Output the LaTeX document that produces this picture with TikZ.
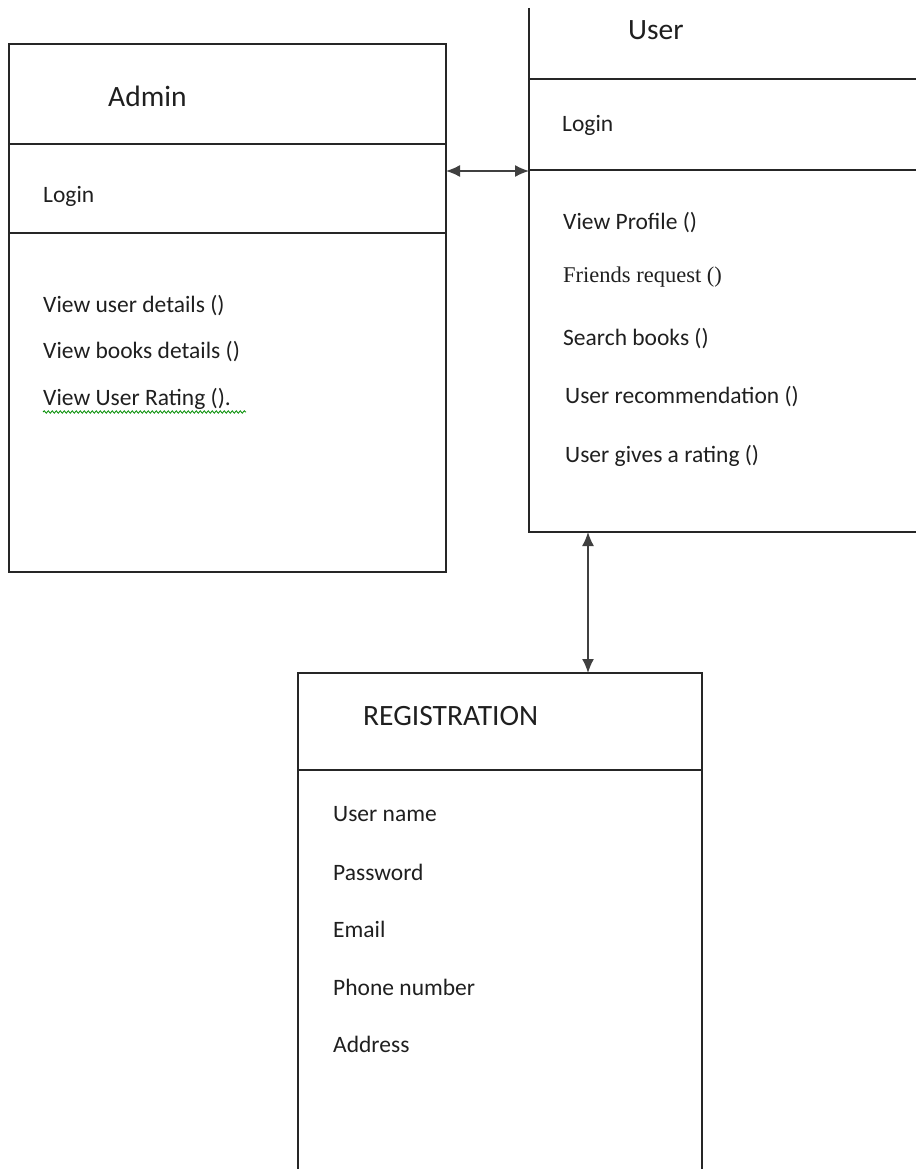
\documentclass[tikz,border=0pt]{standalone}
\usepackage{fontspec}
\setmainfont{Carlito}
\newfontfamily\timesfont{Liberation Serif}
\usetikzlibrary{arrows.meta,decorations.pathmorphing}
\begin{document}
\begin{tikzpicture}[x=1pt,y=-1pt,
  boxline/.style={line width=1.8pt,draw=black!85},
  link/.style={line width=1.5pt,draw=black!75,{Latex[length=14pt,width=12pt]}-{Latex[length=14pt,width=12pt]}},
  title/.style={anchor=base west,inner sep=0pt,font=\fontsize{29.5}{34}\selectfont,text=black!88},
  item/.style={anchor=base west,inner sep=0pt,font=\fontsize{23.5}{27}\selectfont,text=black!88},
  spell/.style={draw=green!55!black,line width=0.8pt,decorate,
    decoration={snake,amplitude=1.2pt,segment length=4pt}}]
\useasboundingbox (0,0) rectangle (916,1169);

% Admin class
\draw[boxline] (9,44) rectangle (446,572);
\draw[boxline] (9,144) -- (446,144);
\draw[boxline] (9,233) -- (446,233);
\node[title] (admin) at (108,107) {Admin};
\node[item] (alogin) at (43,202) {Login};
\node[item] (a1) at (43,312) {View user details ()};
\node[item] (a2) at (43,358) {View books details ()};
\node[item] (a3) at (43,405) {View User Rating ().};
\draw[spell] (43,412) -- (246,412);

% User class
\draw[boxline] (529,8) -- (529,532) -- (916,532);
\draw[boxline] (529,79) -- (916,79);
\draw[boxline] (529,170) -- (916,170);
\node[title] (user) at (628,40) {User};
\node[item] (ulogin) at (562,132) {Login};
\node[item] (u1) at (563,229) {View Profile ()};
\node[item,font=\timesfont\fontsize{22.5}{26}\selectfont] (u2) at (563,282) {Friends request ()};
\node[item] (u3) at (563,345) {Search books ()};
\node[item] (u4) at (565,403) {User recommendation ()};
\node[item] (u5) at (565,462) {User gives a rating ()};

% Registration class
\draw[boxline] (298,1169) -- (298,673) -- (702,673) -- (702,1169);
\draw[boxline] (298,770) -- (702,770);
\node[title] (reg) at (363,725) {REGISTRATION};
\node[item] (r1) at (333,821) {User name};
\node[item] (r2) at (333,880) {Password};
\node[item] (r3) at (333,937) {Email};
\node[item] (r4) at (333,995) {Phone number};
\node[item] (r5) at (333,1052) {Address};

% Associations
\coordinate (adminEdge) at (446,171);
\coordinate (userEdge) at (529,171);
\coordinate (userBottom) at (588,532);
\coordinate (regTop) at (588,673);
\draw[link] (adminEdge) -- (userEdge);
\draw[link] (userBottom) -- (regTop);
\end{tikzpicture}
\end{document}
